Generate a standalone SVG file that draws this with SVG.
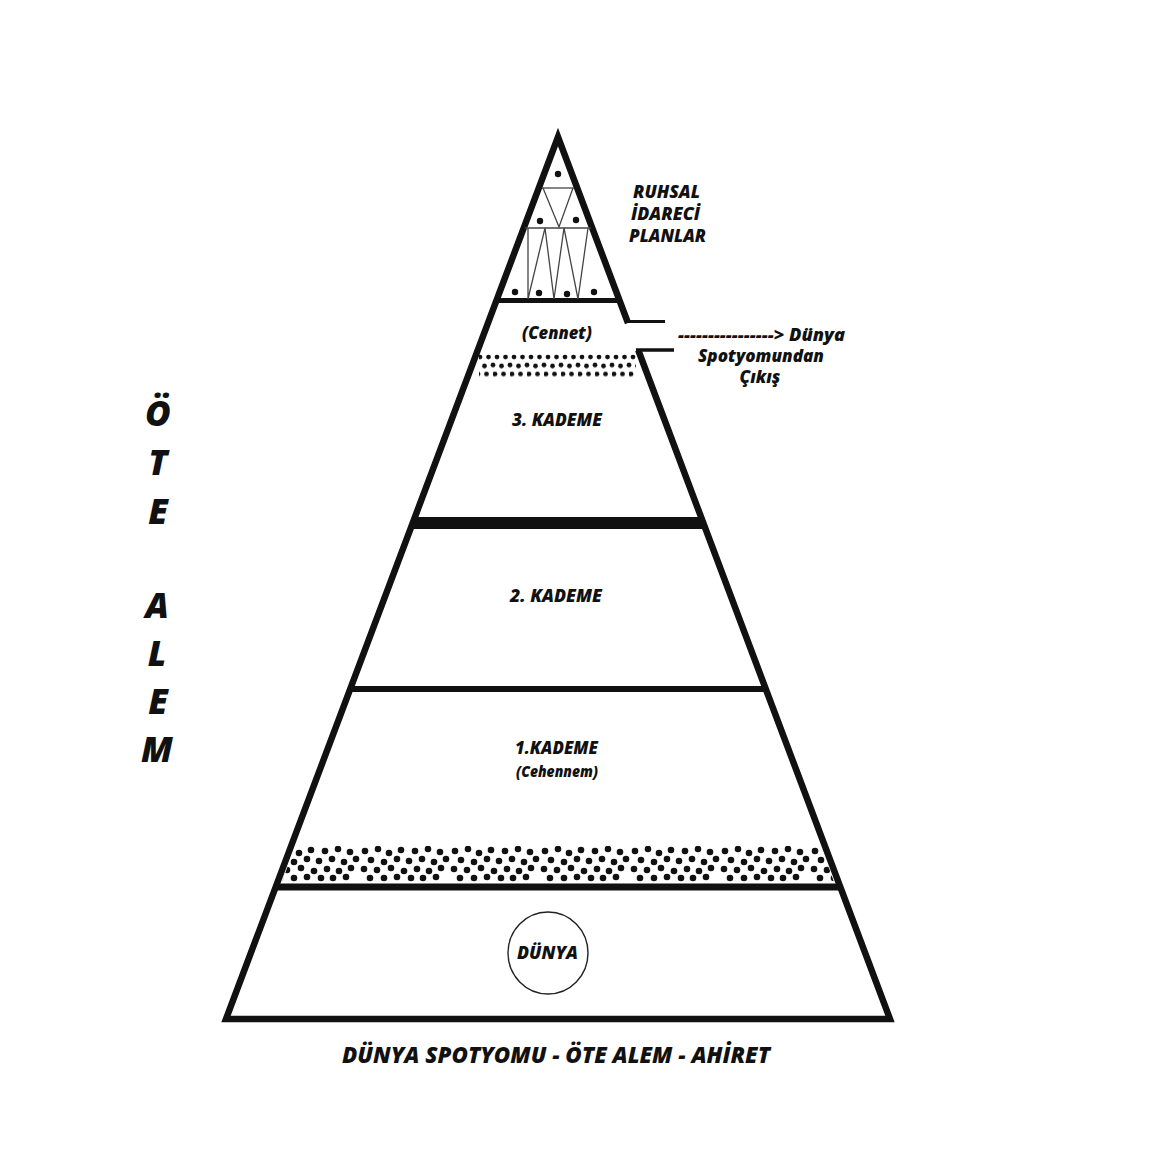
<svg xmlns="http://www.w3.org/2000/svg" width="1172" height="1172" viewBox="0 0 1172 1172">
<style>
.t{font-family:"Open Sans","Liberation Sans",sans-serif;font-weight:800;font-style:italic;fill:#111}
.thin{stroke:#444;stroke-width:1.3;fill:none}
.dot{fill:#111}
</style>
<defs>
<pattern id="dots" patternUnits="userSpaceOnUse" x="0" y="846" width="90" height="36">
<g fill="#111">
<circle cx="5" cy="5" r="3.3"/><circle cx="18" cy="3" r="3.3"/><circle cx="29" cy="7" r="3.3"/><circle cx="41" cy="4" r="3.3"/><circle cx="55" cy="5" r="3.3"/><circle cx="68" cy="3" r="3.3"/><circle cx="80" cy="6" r="3.3"/>
<circle cx="11" cy="14" r="3.3"/><circle cx="24" cy="16" r="3.3"/><circle cx="37" cy="13" r="3.3"/><circle cx="49" cy="15" r="3.3"/><circle cx="62" cy="13" r="3.3"/><circle cx="74" cy="16" r="3.3"/><circle cx="86" cy="13" r="3.3"/>
<circle cx="4" cy="23" r="3.3"/><circle cx="17" cy="24" r="3.3"/><circle cx="31" cy="22" r="3.3"/><circle cx="44" cy="25" r="3.3"/><circle cx="57" cy="23" r="3.3"/><circle cx="69" cy="25" r="3.3"/><circle cx="81" cy="22" r="3.3"/>
<circle cx="10" cy="32" r="3.3"/><circle cx="24" cy="32" r="3.3"/><circle cx="37" cy="31" r="3.3"/><circle cx="51" cy="32" r="3.3"/><circle cx="63" cy="32" r="3.3"/><circle cx="76" cy="31" r="3.3"/>
</g>
</pattern>
<pattern id="fine" patternUnits="userSpaceOnUse" x="0" y="353" width="17" height="25.5">
<g fill="#111">
<circle cx="4" cy="4" r="2.4"/><circle cx="12.5" cy="4" r="2.4"/>
<circle cx="0" cy="12" r="2.4"/><circle cx="8.5" cy="13" r="2.4"/><circle cx="17" cy="12" r="2.4"/>
<circle cx="2" cy="21" r="2.4"/><circle cx="10.5" cy="21" r="2.4"/>
</g>
</pattern>
<clipPath id="cb"><polygon points="295,846 821,846 834,882 282,882"/></clipPath>
</defs>
<rect width="1172" height="1172" fill="#fff"/>

<g id="pyramid">
<line x1="626" y1="321.5" x2="665" y2="321.5" stroke="#111" stroke-width="3"/>
<line x1="636" y1="350" x2="674" y2="350" stroke="#111" stroke-width="3.5"/>
<path d="M638.2 350 L890 1019 L226 1019 L558 137 L628 323" fill="none" stroke="#111" stroke-width="6.5" stroke-linejoin="miter" stroke-miterlimit="20"/>
<line x1="496.5" y1="300.5" x2="619.5" y2="300.5" stroke="#111" stroke-width="5"/>
<line x1="412.7" y1="523" x2="703.3" y2="523" stroke="#111" stroke-width="12"/>
<line x1="350.2" y1="689" x2="765.8" y2="689" stroke="#111" stroke-width="6"/>
<line x1="275.7" y1="887" x2="840.3" y2="887" stroke="#111" stroke-width="7"/>
</g>

<g id="apex">
<line class="thin" x1="542" y1="188" x2="574" y2="188"/>
<polyline class="thin" points="543,188 559,227 573,188"/>
<line class="thin" x1="525" y1="228" x2="591" y2="228"/>
<polyline class="thin" points="528,228 528,299 545,228 554,299 564,228 578,299 588,228"/>
<circle class="dot" cx="558" cy="174" r="3.2"/>
<circle class="dot" cx="540" cy="221" r="3.2"/>
<circle class="dot" cx="576" cy="220" r="3.2"/>
<circle class="dot" cx="515" cy="292" r="3.2"/>
<circle class="dot" cx="539" cy="293" r="3.2"/>
<circle class="dot" cx="567" cy="294" r="3.2"/>
<circle class="dot" cx="594" cy="292" r="3.2"/>
</g>

<g id="cennet-dots">
<rect x="479" y="353" width="157" height="25.5" fill="url(#fine)"/>
</g>

<g id="hell-dots">
<rect x="280" y="846" width="560" height="36" fill="url(#dots)" clip-path="url(#cb)"/>
</g>

<g id="dunya">
<ellipse cx="548" cy="953" rx="40" ry="41" fill="none" stroke="#222" stroke-width="1.4"/>
<text class="t" x="517" y="959" font-size="17.5" textLength="61" lengthAdjust="spacingAndGlyphs">DÜNYA</text>
</g>

<g id="labels">
<text class="t" x="633" y="198" font-size="18" textLength="67" lengthAdjust="spacingAndGlyphs">RUHSAL</text>
<text class="t" x="631" y="220" font-size="18" textLength="69" lengthAdjust="spacingAndGlyphs">İDARECİ</text>
<text class="t" x="629" y="242" font-size="18" textLength="77" lengthAdjust="spacingAndGlyphs">PLANLAR</text>
<text class="t" x="522" y="339" font-size="17" textLength="70" lengthAdjust="spacingAndGlyphs">(Cennet)</text>
<text class="t" x="678" y="341" font-size="17" textLength="167" lengthAdjust="spacingAndGlyphs">----------------&gt; Dünya</text>
<text class="t" x="698" y="362" font-size="17" textLength="126" lengthAdjust="spacingAndGlyphs">Spotyomundan</text>
<text class="t" x="760" y="383" font-size="17" text-anchor="middle">Çıkış</text>
<text class="t" x="512" y="426" font-size="18" textLength="90" lengthAdjust="spacingAndGlyphs">3. KADEME</text>
<text class="t" x="510" y="602" font-size="18" textLength="92" lengthAdjust="spacingAndGlyphs">2. KADEME</text>
<text class="t" x="515" y="754" font-size="17" textLength="83" lengthAdjust="spacingAndGlyphs">1.KADEME</text>
<text class="t" x="516" y="777" font-size="16.5" textLength="82" lengthAdjust="spacingAndGlyphs">(Cehennem)</text>
<text class="t" x="342" y="1063" font-size="22" textLength="428" lengthAdjust="spacingAndGlyphs">DÜNYA SPOTYOMU - ÖTE ALEM - AHİRET</text>
</g>

<g id="side-title">
<text class="t" font-size="35" text-anchor="middle"><tspan x="158" y="426">Ö</tspan><tspan x="158" y="475">T</tspan><tspan x="158" y="524">E</tspan><tspan x="157" y="618">A</tspan><tspan x="157" y="666">L</tspan><tspan x="158" y="714">E</tspan><tspan x="157" y="762">M</tspan></text>
</g>
</svg>
